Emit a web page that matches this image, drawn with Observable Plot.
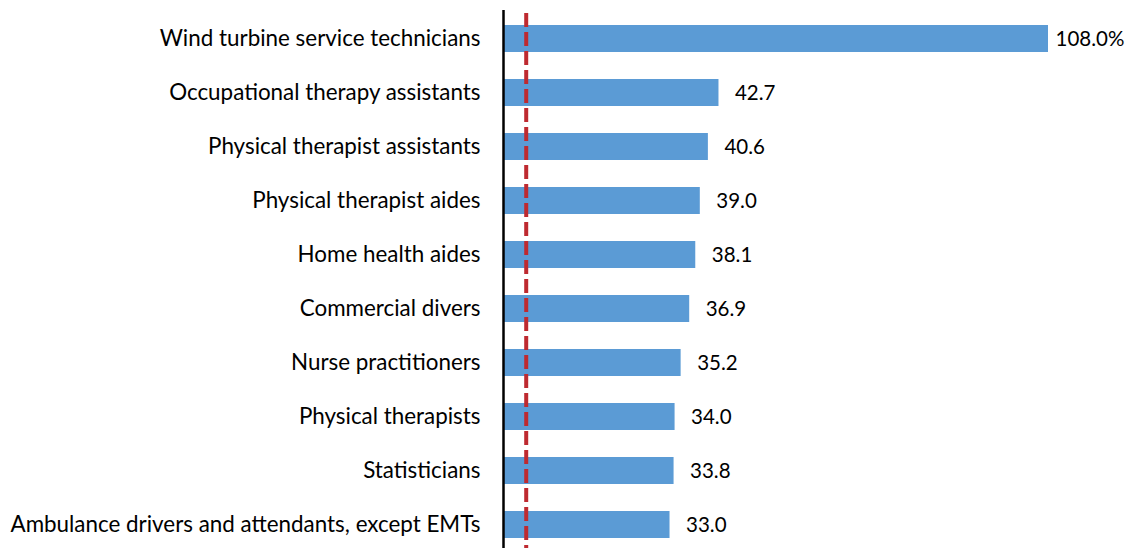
<!DOCTYPE html>
<html>
<head>
<meta charset="utf-8">
<script src="https://cdn.jsdelivr.net/npm/d3@7"></script>
<script src="https://cdn.jsdelivr.net/npm/@observablehq/plot@0.6"></script>
<style>
  html, body { margin: 0; padding: 0; background: #fff; }
  #chart { width: 1134px; height: 548px; }
</style>
</head>
<body>
<div id="chart"></div>
<script>
const occupations = [
  "Wind turbine service technicians",
  "Occupational therapy assistants",
  "Physical therapist assistants",
  "Physical therapist aides",
  "Home health aides",
  "Commercial divers",
  "Nurse practitioners",
  "Physical therapists",
  "Statisticians",
  "Ambulance drivers and attendants, except EMTs"
];
const growth = [108.0, 42.7, 40.6, 39.0, 38.1, 36.9, 35.2, 34.0, 33.8, 33.0];
const averageGrowth = 4.5;

const data = occupations.map((name, i) => ({name, value: growth[i]}));

const font = "Lato, 'Open Sans', sans-serif";
const fs = 22.4;
const vfs = 20.5;

const chart = Plot.plot({
  width: 1134,
  height: 548,
  marginLeft: 503,
  marginRight: 86,
  marginTop: 10,
  marginBottom: 0,
  style: {fontFamily: font, fontSize: fs + "px", color: "#000", background: "#fff"},
  x: {domain: [0, 108], axis: null},
  y: {domain: occupations, paddingInner: 0.497, paddingOuter: 0.2026, align: 0.6, label: null, tickSize: 0, tickPadding: 23},
  marks: [
    Plot.barX(data, {x: "value", y: "name", fill: "#5B9BD5"}),
    Plot.ruleX([0], {stroke: "#000", strokeWidth: 2.5}),
    Plot.ruleX([averageGrowth], {stroke: "#BE2A30", strokeWidth: 4, strokeDasharray: "14,5", insetTop: 3}),
    Plot.text(data.slice(0, 1), {
      x: "value", y: "name",
      text: d => d.value.toFixed(1) + "%",
      textAnchor: "start", dx: 7, fill: "#000", fontSize: vfs
    }),
    Plot.text(data.slice(1), {
      x: "value", y: "name",
      text: d => d.value.toFixed(1),
      textAnchor: "start", dx: 16, fill: "#000", fontSize: vfs
    }),
    Plot.axisY({tickSize: 0, tickPadding: 23, fontSize: fs, label: null, fill: "#000"})
  ]
});
document.getElementById("chart").appendChild(chart);
</script>
</body>
</html>
